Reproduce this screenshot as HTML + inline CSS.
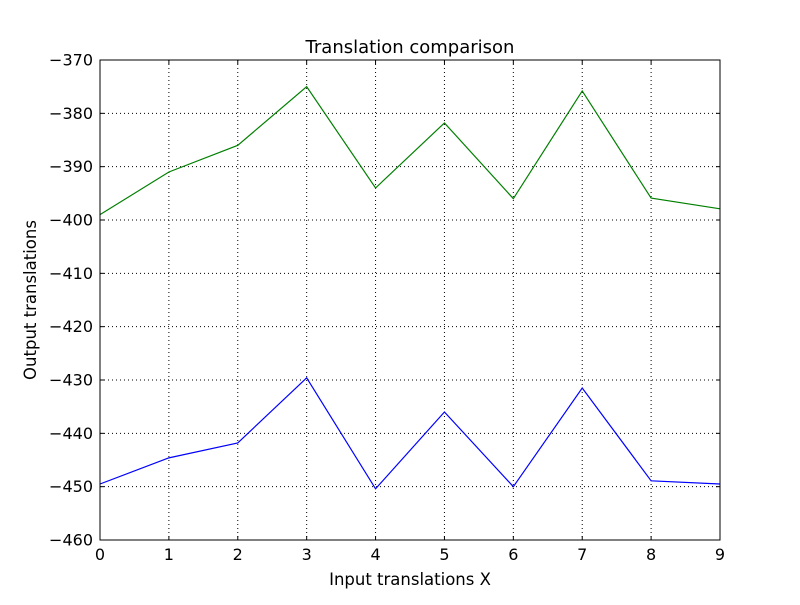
<!DOCTYPE html>
<html><head><meta charset="utf-8"><style>
html,body{margin:0;padding:0;background:#fff;}
svg text{font-family:"DejaVu Sans","Liberation Sans",sans-serif;fill:#000;}
</style></head><body>
<svg id="chart" width="800" height="600" xmlns="http://www.w3.org/2000/svg">
<rect width="800" height="600" fill="#fff"/>
<g id="grid"></g>
<g id="series"></g>
<rect x="100" y="60" width="620" height="480" fill="none" stroke="#000" stroke-width="1"/>
<g id="ticks"></g>
<text x="410" y="53" font-size="18" text-anchor="middle">Translation comparison</text>
<text x="410" y="585" font-size="16.5" text-anchor="middle">Input translations X</text>
<text x="36" y="300" font-size="16.5" text-anchor="middle" transform="rotate(-90 36 300)">Output translations</text>
</svg>
<script>
const xValues = [0,1,2,3,4,5,6,7,8,9];
const greenValues = [-399,-391,-386,-375,-394,-381.8,-396,-375.8,-395.9,-397.9];
const blueValues = [-449.5,-444.6,-441.8,-429.6,-450.4,-436,-450,-431.5,-448.9,-449.5];
const xTicks = [0,1,2,3,4,5,6,7,8,9];
const yTicks = [-460,-450,-440,-430,-420,-410,-400,-390,-380,-370];

const X0=100,X1=720,Y0=60,Y1=540,xMin=0,xMax=9,yMin=-460,yMax=-370;
const sx=v=>X0+(v-xMin)/(xMax-xMin)*(X1-X0);
const sy=v=>Y1-(v-yMin)/(yMax-yMin)*(Y1-Y0);
const NS="http://www.w3.org/2000/svg";
const grid=document.getElementById('grid'),ticks=document.getElementById('ticks'),series=document.getElementById('series');
function mk(tag,attrs,parent){const e=document.createElementNS(NS,tag);for(const k in attrs)e.setAttribute(k,attrs[k]);parent.appendChild(e);return e;}

xTicks.forEach(t=>{
  const x=sx(t);
  const g=mk('line',{x1:x,y1:Y0,x2:x,y2:Y1,stroke:'#000','stroke-dasharray':'1,3','stroke-width':1},grid);
  
  
  mk('line',{x1:x,y1:Y1,x2:x,y2:Y1-4,stroke:'#000'},ticks);
  mk('line',{x1:x,y1:Y0,x2:x,y2:Y0+4,stroke:'#000'},ticks);
  const l=mk('text',{x:x,y:Y1+20,'font-size':16,'text-anchor':'middle'},ticks);
  l.textContent=t;
  
  
});
yTicks.forEach(t=>{
  const y=sy(t);
  const g=mk('line',{x1:X0,y1:y,x2:X1,y2:y,stroke:'#000','stroke-dasharray':'1,3','stroke-width':1},grid);
  
  
  mk('line',{x1:X0,y1:y,x2:X0+4,y2:y,stroke:'#000'},ticks);
  mk('line',{x1:X1,y1:y,x2:X1-4,y2:y,stroke:'#000'},ticks);
  const l=mk('text',{x:X0-7,y:y+5.5,'font-size':16,'text-anchor':'end'},ticks);
  l.textContent=String(t).replace('-','\u2212');
  
  
});
function line(vals,color,name){
  const p=mk('polyline',{points:vals.map((v,i)=>sx(xValues[i])+','+sy(v)).join(' '),fill:'none',stroke:color,'stroke-width':1.2},series);
  
  
}
line(greenValues,'#008000','green-series-line');
line(blueValues,'#0000ff','blue-series-line');
</script>
</body></html>
